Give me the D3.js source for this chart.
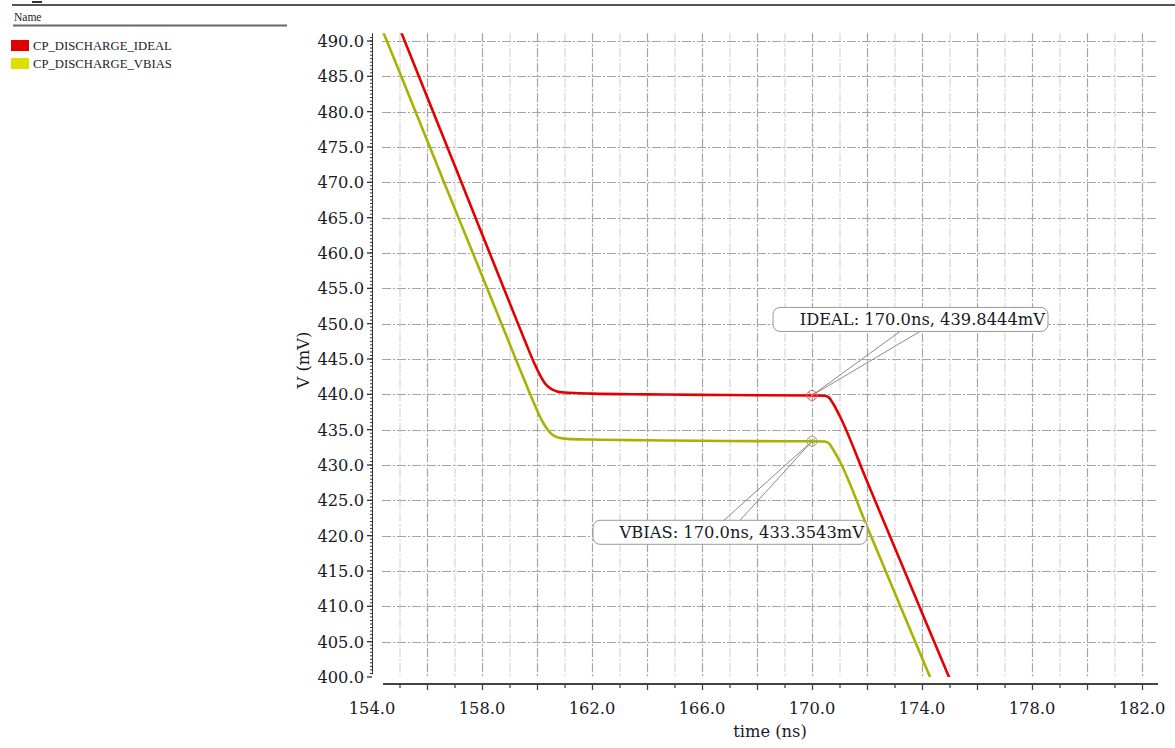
<!DOCTYPE html>
<html>
<head>
<meta charset="utf-8">
<script src="https://cdn.jsdelivr.net/npm/d3@7"></script>
<style>
  html, body { margin: 0; padding: 0; background: #fff; }
  svg { display: block; }
  text { font-family: "DejaVu Serif", serif; fill: #1a1a26; }
  .legend text { font-family: "Liberation Serif", serif; }
</style>
</head>
<body>
<svg id="chart" width="1175" height="748"></svg>
<script>
// Waveform samples: [time (ns), voltage (mV)]
const idealWave = [
  [154.9, 492.8], [155.5, 487.0], [156.5, 477.3], [157.2, 470.5], [158.0, 462.7],
  [159.0, 453.0], [159.6, 447.2], [159.9, 444.4], [160.1, 442.8], [160.3, 441.5],
  [160.5, 440.8], [160.7, 440.45], [161.0, 440.25], [162.0, 440.1], [164.0, 440.0],
  [166.0, 439.93], [168.0, 439.88], [170.0, 439.84], [170.45, 439.8], [170.6, 439.6],
  [170.75, 438.8], [171.0, 437.0], [172.0, 427.7], [173.0, 418.4], [174.0, 409.1],
  [175.1, 398.9]
];
const vbiasWave = [
  [154.3, 492.3], [155.0, 485.6], [156.0, 476.0], [156.6, 470.2], [157.5, 461.6],
  [158.5, 452.0], [159.3, 444.3], [159.7, 440.5], [159.95, 438.2], [160.15, 436.5],
  [160.35, 435.2], [160.55, 434.3], [160.8, 433.85], [161.1, 433.7], [162.0, 433.6],
  [164.0, 433.5], [166.0, 433.43], [168.0, 433.38], [170.0, 433.354], [170.45, 433.33],
  [170.6, 433.1], [170.75, 432.3], [171.0, 430.6], [172.0, 421.3], [173.0, 412.0],
  [174.4, 399.0]
];

const seriesNames = ["CP_DISCHARGE_IDEAL", "CP_DISCHARGE_VBIAS"];
const seriesColors = ["#e50000", "#a8b200"];
const swatchColors = ["#e00000", "#dede00"];

// Cursor readouts at t = 170 ns
const markerTime = 170.0;
const markerValues = [439.8444, 433.3543];
const markerLabels = ["IDEAL: 170.0ns, 439.8444mV", "VBIAS: 170.0ns, 433.3543mV"];

const xTickLabels = [154, 158, 162, 166, 170, 174, 178, 182];
const yTickLabels = d3.range(400, 490.1, 5);

const svg = d3.select("#chart");
const fontSize = 16.3;

// Scales
const x = d3.scaleLinear().domain([154, 182]).range([372, 1142]);
const y = d3.scaleLinear().domain([400, 490]).range([677, 41]);
const plotLeft = x(154), plotRight = x(182.55);
const plotTop = y(491.1), plotBottom = y(400);

// Header strip with the name column
svg.append("line").attr("x1", 12).attr("x2", 1175).attr("y1", 5).attr("y2", 5)
  .attr("stroke", "#555").attr("stroke-width", 2);
svg.append("line").attr("x1", 32).attr("x2", 42).attr("y1", 2).attr("y2", 2)
  .attr("stroke", "#333").attr("stroke-width", 2);
svg.append("text").attr("x", 14).attr("y", 21).attr("font-size", 11.5)
  .style("font-family", "Liberation Serif, serif").text("Name");
svg.append("line").attr("x1", 13).attr("x2", 287).attr("y1", 25.5).attr("y2", 25.5)
  .attr("stroke", "#666").attr("stroke-width", 2);

// Legend
const legend = svg.append("g").attr("class", "legend");
seriesNames.forEach((name, i) => {
  const gy = 40 + i * 18;
  legend.append("rect").attr("x", 11).attr("y", gy).attr("width", 18).attr("height", 11)
    .attr("fill", swatchColors[i]);
  legend.append("text").attr("x", 33).attr("y", gy + 9.5).attr("font-size", 12.7)
    .text(name);
});

// Grid
const grid = svg.append("g");
d3.range(155, 183).forEach(t => {
  const major = t % 2 === 0;
  grid.append("line")
    .attr("x1", x(t) + 0.5).attr("x2", x(t) + 0.5)
    .attr("y1", plotTop).attr("y2", plotBottom)
    .attr("stroke", major ? "#a4a4a4" : "#d6d6d6")
    .attr("stroke-width", 1.2)
    .attr("stroke-dasharray", "9,2,2,2");
});
d3.range(405, 490.1, 5).forEach(v => {
  grid.append("line")
    .attr("x1", plotLeft + 10).attr("x2", plotRight)
    .attr("y1", Math.round(y(v)) + 0.5).attr("y2", Math.round(y(v)) + 0.5)
    .attr("stroke", "#a4a4a4")
    .attr("stroke-width", 1.2)
    .attr("stroke-dasharray", "9,2,2,2");
});

// Y axis: dense minor ticks plus labelled ticks every 5 mV
const yAxisG = svg.append("g");
yAxisG.append("line").attr("x1", plotLeft + 0.5).attr("x2", plotLeft + 0.5)
  .attr("y1", plotTop).attr("y2", y(400.4)).attr("stroke", "#333").attr("stroke-width", 1);
d3.range(400.5, 491, 0.5).forEach(v => {
  yAxisG.append("line").attr("x1", plotLeft - 2).attr("x2", plotLeft + 0.5)
    .attr("y1", y(v)).attr("y2", y(v)).attr("stroke", "#333").attr("stroke-width", 1);
});
yAxisG.selectAll("text.yl").data(yTickLabels).join("text")
  .attr("class", "yl")
  .attr("x", plotLeft - 8).attr("y", d => y(d)).attr("dy", "0.36em")
  .attr("text-anchor", "end").attr("font-size", fontSize)
  .text(d => d.toFixed(1));
yAxisG.selectAll("line.ymaj").data(yTickLabels).join("line")
  .attr("class", "ymaj")
  .attr("x1", plotLeft - 5).attr("x2", plotLeft)
  .attr("y1", d => y(d)).attr("y2", d => y(d))
  .attr("stroke", "#333").attr("stroke-width", 1.3);

// X axis
const axisY = 684;
const xAxisG = svg.append("g");
xAxisG.append("line").attr("x1", 383).attr("x2", 1158).attr("y1", axisY).attr("y2", axisY)
  .attr("stroke", "#444").attr("stroke-width", 2);
d3.range(155, 183).forEach(t => {
  xAxisG.append("line").attr("x1", x(t) + 0.5).attr("x2", x(t) + 0.5)
    .attr("y1", axisY).attr("y2", axisY + (t % 2 === 0 ? 6 : 4))
    .attr("stroke", "#444").attr("stroke-width", 1.3);
});
xAxisG.selectAll("text").data(xTickLabels).join("text")
  .attr("x", d => x(d)).attr("y", 714)
  .attr("text-anchor", "middle").attr("font-size", fontSize)
  .text(d => d.toFixed(1));

// Axis titles
svg.append("text").attr("x", 770).attr("y", 737).attr("text-anchor", "middle")
  .attr("font-size", fontSize).text("time (ns)");
svg.append("text").attr("transform", "translate(309,360) rotate(-90)")
  .attr("text-anchor", "middle").attr("font-size", fontSize).text("V (mV)");

// Waveforms
svg.append("clipPath").attr("id", "plotClip").append("rect")
  .attr("x", plotLeft).attr("y", plotTop).attr("width", plotRight - plotLeft)
  .attr("height", plotBottom - plotTop);
const line = d3.line().x(d => x(d[0])).y(d => y(d[1])).curve(d3.curveMonotoneX);
const curves = svg.append("g").attr("clip-path", "url(#plotClip)");
[idealWave, vbiasWave].forEach((wave, i) => {
  curves.append("path").attr("d", line(wave)).attr("fill", "none")
    .attr("stroke", seriesColors[i]).attr("stroke-width", 2.6)
    .attr("stroke-linejoin", "round");
});

// Cursor annotations
const markerColors = ["#ee5a5a", "#a4a460"];
const boxes = [
  { dx: -39, dy: -88, w: 275, anchorA: [88, -64], anchorB: [108, -64] },
  { dx: -219, dy: 79, w: 274, anchorA: [-88, 79], anchorB: [-72, 79] }
];
markerValues.forEach((v, i) => {
  const mx = x(markerTime), my = y(v);
  const b = boxes[i];
  const g = svg.append("g");
  // leader wedge
  g.append("line").attr("x1", mx).attr("y1", my)
    .attr("x2", mx + b.anchorA[0]).attr("y2", my + b.anchorA[1])
    .attr("stroke", "#8a8a8a").attr("stroke-width", 1);
  g.append("line").attr("x1", mx).attr("y1", my)
    .attr("x2", mx + b.anchorB[0]).attr("y2", my + b.anchorB[1])
    .attr("stroke", "#8a8a8a").attr("stroke-width", 1);
  const bx = mx + b.dx, by = my + b.dy;
  g.append("rect").attr("x", bx).attr("y", by).attr("width", b.w).attr("height", 24)
    .attr("rx", 7).attr("fill", "#fff").attr("stroke", "#999").attr("stroke-width", 1);
  g.append("text").attr("x", bx + b.w - 3).attr("y", by + 18)
    .attr("text-anchor", "end").attr("font-size", fontSize).text(markerLabels[i]);
  // crosshair marker
  g.append("circle").attr("cx", mx).attr("cy", my).attr("r", 5)
    .attr("fill", "none").attr("stroke", markerColors[i]).attr("stroke-width", 1);
  const k = 3.5;
  g.append("path")
    .attr("d", `M${mx - k},${my - k}L${mx + k},${my + k}M${mx - k},${my + k}L${mx + k},${my - k}`)
    .attr("stroke", markerColors[i]).attr("stroke-width", 1);
});
</script>
</body>
</html>
